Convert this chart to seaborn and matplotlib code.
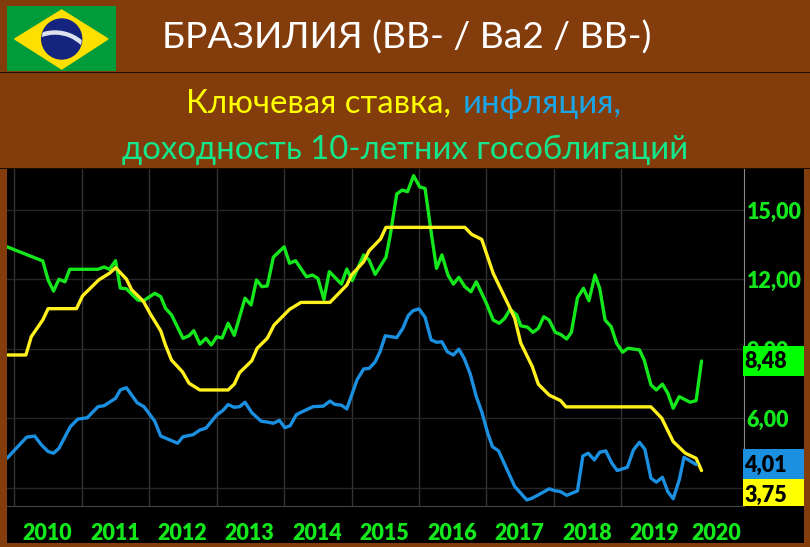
import pandas as pd
import seaborn as sns
import matplotlib.pyplot as plt
from matplotlib.patches import Rectangle, Polygon, Circle, Wedge

# ключевая ставка
rate_t = [2009.89, 2010.17, 2010.25, 2010.42, 2010.50, 2010.92, 2011.01, 2011.25, 2011.41, 2011.50, 2011.66, 2011.74,
          2011.91, 2012.01, 2012.17, 2012.24, 2012.33, 2012.49, 2012.59, 2012.75, 2013.17, 2013.26, 2013.34, 2013.52,
          2013.60, 2013.75, 2013.85, 2014.08, 2014.25, 2014.68, 2014.93, 2015.00, 2015.18, 2015.26, 2015.43, 2015.51,
          2016.68, 2016.78, 2016.93, 2017.10, 2017.35, 2017.42, 2017.51, 2017.68, 2017.77, 2017.93, 2018.10, 2018.18,
          2019.44, 2019.60, 2019.77, 2019.95, 2020.11, 2020.19]
rate_v = [8.74, 8.74, 9.53, 10.25, 10.74, 10.74, 11.29, 11.98, 12.27, 12.51, 12.02, 11.55,
          11.07, 10.54, 9.78, 9.17, 8.52, 8.02, 7.52, 7.23, 7.23, 7.48, 7.98, 8.49,
          9.03, 9.46, 10.03, 10.71, 11.01, 11.01, 11.76, 12.19, 12.77, 13.24, 13.75, 14.25,
          14.25, 13.95, 13.73, 12.27, 10.76, 10.32, 9.25, 8.24, 7.48, 7.01, 6.77, 6.50,
          6.50, 6.01, 5.00, 4.50, 4.28, 3.75]

# инфляция
infl_t = [2009.89, 2010.18, 2010.30, 2010.40, 2010.50, 2010.58, 2010.66, 2010.83, 2010.94, 2011.08, 2011.24, 2011.33,
          2011.50, 2011.57, 2011.66, 2011.82, 2011.92, 2012.08, 2012.17, 2012.42, 2012.50, 2012.65, 2012.75, 2012.84,
          2013.00, 2013.09, 2013.17, 2013.26, 2013.34, 2013.42, 2013.52, 2013.66, 2013.76, 2013.84, 2013.93, 2014.01,
          2014.09, 2014.18, 2014.26, 2014.43, 2014.58, 2014.68, 2014.75, 2014.85, 2014.93, 2015.08, 2015.18, 2015.26,
          2015.35, 2015.42, 2015.50, 2015.67, 2015.76, 2015.84, 2015.91, 2016.00, 2016.09, 2016.18, 2016.26, 2016.34,
          2016.42, 2016.51, 2016.59, 2016.67, 2016.76, 2016.85, 2016.93, 2017.02, 2017.09, 2017.18, 2017.42, 2017.60,
          2017.68, 2017.77, 2017.93, 2018.02, 2018.10, 2018.19, 2018.35, 2018.43, 2018.51, 2018.60, 2018.68, 2018.77,
          2018.86, 2018.94, 2019.09, 2019.18, 2019.27, 2019.35, 2019.44, 2019.52, 2019.61, 2019.69, 2019.77, 2019.86,
          2019.93, 2020.11]
infl_v = [4.28, 5.19, 5.24, 4.86, 4.57, 4.50, 4.71, 5.65, 5.97, 6.03, 6.51, 6.55,
          6.87, 7.23, 7.33, 6.68, 6.51, 5.89, 5.24, 4.93, 5.21, 5.30, 5.50, 5.58,
          6.15, 6.34, 6.60, 6.48, 6.51, 6.70, 6.25, 5.88, 5.84, 5.79, 5.92, 5.60,
          5.69, 6.16, 6.28, 6.51, 6.53, 6.75, 6.61, 6.57, 6.41, 7.66, 8.14, 8.16,
          8.44, 8.87, 9.57, 9.49, 9.89, 10.44, 10.65, 10.73, 10.37, 9.39, 9.29, 9.31,
          8.88, 8.74, 8.99, 8.60, 7.92, 6.94, 6.29, 5.36, 4.78, 4.60, 3.06, 2.48,
          2.56, 2.70, 2.96, 2.88, 2.84, 2.68, 2.87, 4.38, 4.50, 4.21, 4.54, 4.60,
          4.07, 3.75, 3.89, 4.64, 4.97, 4.67, 3.42, 3.25, 3.46, 2.84, 2.53, 3.35,
          4.32, 4.01]

# доходность 10-летних
bond_t = [2009.89, 2010.42, 2010.50, 2010.58, 2010.66, 2010.75, 2010.82, 2011.24, 2011.33, 2011.41, 2011.50, 2011.57,
          2011.66, 2011.83, 2011.91, 2012.08, 2012.17, 2012.24, 2012.33, 2012.50, 2012.59, 2012.66, 2012.75, 2012.84,
          2012.92, 2013.00, 2013.08, 2013.17, 2013.26, 2013.42, 2013.51, 2013.59, 2013.67, 2013.75, 2013.84, 2014.00,
          2014.08, 2014.17, 2014.33, 2014.42, 2014.50, 2014.59, 2014.67, 2014.85, 2014.93, 2015.01, 2015.18, 2015.26,
          2015.35, 2015.51, 2015.57, 2015.67, 2015.75, 2015.83, 2015.92, 2016.01, 2016.09, 2016.19, 2016.26, 2016.34,
          2016.43, 2016.51, 2016.59, 2016.68, 2016.77, 2016.85, 2017.00, 2017.10, 2017.19, 2017.27, 2017.35, 2017.45,
          2017.51, 2017.61, 2017.69, 2017.77, 2017.85, 2017.93, 2018.02, 2018.10, 2018.19, 2018.26, 2018.35, 2018.44,
          2018.52, 2018.61, 2018.68, 2018.76, 2018.85, 2018.93, 2019.02, 2019.10, 2019.27, 2019.34, 2019.44, 2019.52,
          2019.61, 2019.69, 2019.77, 2019.86, 2020.02, 2020.11, 2020.19]
bond_v = [13.41, 12.80, 11.98, 11.50, 12.01, 11.90, 12.44, 12.44, 12.54, 12.44, 12.81, 11.63,
          11.60, 11.11, 11.07, 11.40, 11.26, 10.76, 10.47, 9.46, 9.57, 9.79, 9.21, 9.46,
          9.17, 9.53, 9.47, 10.11, 9.59, 11.19, 10.90, 11.98, 11.69, 11.72, 12.96, 13.41,
          12.70, 12.81, 12.12, 12.19, 12.05, 11.14, 12.34, 11.80, 12.45, 11.95, 13.06, 12.84,
          12.22, 12.96, 13.85, 15.69, 15.86, 15.79, 16.48, 16.00, 15.93, 13.85, 12.48, 13.06,
          12.19, 11.80, 12.09, 11.69, 11.47, 11.90, 10.97, 10.25, 10.11, 10.32, 10.71, 10.47,
          10.00, 9.94, 9.72, 9.89, 10.39, 10.25, 9.72, 9.63, 9.43, 9.72, 11.21, 11.62,
          11.08, 12.19, 11.62, 10.25, 9.96, 9.25, 8.86, 9.03, 8.96, 8.52, 7.45, 7.23,
          7.48, 7.09, 6.44, 6.94, 6.70, 6.77, 8.48]

year_pos = [2010.49, 2011.49, 2012.49, 2013.49, 2014.49, 2015.49, 2016.49, 2017.49, 2018.49, 2019.49, 2020.41]
year_labels = ['2010', '2011', '2012', '2013', '2014', '2015', '2016', '2017', '2018', '2019', '2020']
grid_years = list(range(2010, 2020))
y_ticks = [3, 6, 9, 12, 15]
y_labels = ['', '6,00', '9,00', '12,00', '15,00']

BROWN = '#833C0B'
GREEN = '#14E81C'
YELLOW = '#FFF01E'
BLUE = '#1B8FE0'

sns.set_style('dark')
plt.rcParams['font.family'] = ['Lato', 'Open Sans', 'DejaVu Sans']

W, H = 810, 547
fig = plt.figure(figsize=(W / 100, H / 100), dpi=100, facecolor=BROWN)


def box(x0, y0, x1, y1, color, z=5):
    fig.add_artist(Rectangle((x0 / W, 1 - y1 / H), (x1 - x0) / W, (y1 - y0) / H, transform=fig.transFigure,
                             facecolor=color, edgecolor='none', zorder=z))


box(7, 169, 804, 543, 'black', z=-1)
box(0, 72, W, 73.2, '#1a0d02')
box(0, 168, W, 169.2, '#1a0d02')

ax = fig.add_axes([7 / W, 1 - 506 / H, (744 - 7) / W, (506 - 169) / H])
ax.set_facecolor('black')
sns.lineplot(x=bond_t, y=bond_v, color=GREEN, lw=2.4, estimator=None, sort=False, ax=ax)
sns.lineplot(x=rate_t, y=rate_v, color=YELLOW, lw=2.4, estimator=None, sort=False, ax=ax)
sns.lineplot(x=infl_t, y=infl_v, color=BLUE, lw=2.4, estimator=None, sort=False, ax=ax)
ax.set_xlim(2009.89, 2020.82)
ax.set_ylim(2.22, 16.77)
ax.yaxis.tick_right()
ax.set_yticks(y_ticks, y_labels, fontsize=15.5, fontweight='heavy', color=GREEN)
ax.set_xticks(grid_years, [''] * len(grid_years))
ax.set_xticks(year_pos, year_labels, minor=True, fontsize=15.5, fontweight='heavy', color=GREEN)
ax.tick_params(axis='x', which='both', length=0, pad=12)
ax.tick_params(axis='y', length=0, pad=2)
ax.grid(True, axis='x', which='major', color='#333333', lw=1)
ax.grid(True, axis='y', which='major', color='#262626', lw=1)
ax.set_axisbelow(True)
for s in ['top', 'left']:
    ax.spines[s].set_visible(False)
ax.spines['right'].set_color('#8a8a8a')
ax.spines['bottom'].set_color('#444444')

# плашки последних значений
box(743, 346, 804, 376, '#00FF00')
box(743, 449, 804, 479, BLUE)
box(743, 479, 804, 506, '#FFFF00')
for txt, yc in [('8,48', 361), ('4,01', 465), ('3,75', 495)]:
    fig.text(744 / W, 1 - yc / H, txt, color='black', fontsize=15.5, fontweight='heavy', va='center', zorder=6)

# заголовки
fig.text(162 / W, 1 - 38 / H, 'БРАЗИЛИЯ (BB- / Ba2 / BB-)', color='white', fontsize=26.8, va='center', ha='left')
fig.text(186 / W, 1 - 104 / H, 'Ключевая ставка,', color='#FFFF00', fontsize=23.7, va='center', ha='left')
fig.text(463 / W, 1 - 104 / H, 'инфляция,', color='#19A5E6', fontsize=23.7, va='center', ha='left')
fig.text(122 / W, 1 - 150 / H, 'доходность 10-летних гособлигаций', color='#14E68C', fontsize=23.7, va='center', ha='left')

# флаг
fl = fig.add_axes([7 / W, 1 - 71 / H, 109 / W, 65 / H])
fl.set_xlim(7, 116)
fl.set_ylim(71, 6)
fl.axis('off')
fl.add_patch(Rectangle((7, 6), 109, 65, color='#009B3A'))
fl.add_patch(Polygon([(14.7, 39), (61.7, 10), (108, 39), (61.7, 69)], color='#FEDF00'))
disc = Circle((61.7, 39), 20, color='#15257F')
fl.add_patch(disc)
band = Wedge((55, 72), 41, 0, 360, width=3, color='#DDE3EE')
fl.add_patch(band)
band.set_clip_path(disc)

fig.savefig('out.png', dpi=100, facecolor=BROWN)
